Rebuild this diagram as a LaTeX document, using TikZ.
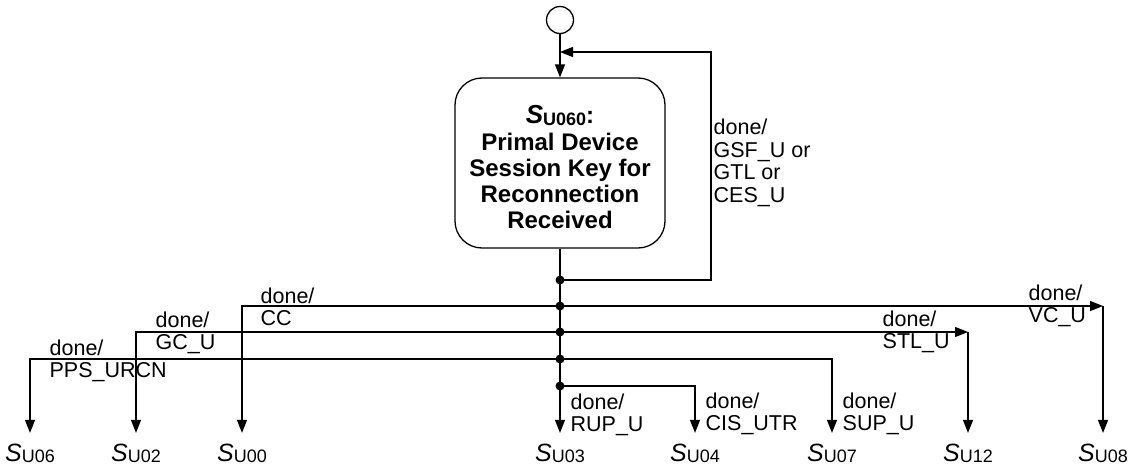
\documentclass[tikz,border=0pt]{standalone}
\usepackage{fontspec}
\setmainfont{Liberation Sans}
\usetikzlibrary{arrows.meta}
\newcommand{\stname}[1]{{\fontsize{25}{25}\selectfont\textit{S}}\raisebox{-1.5pt}{\fontsize{18}{18}\selectfont #1}}
\begin{document}
\begin{tikzpicture}[x=1pt,y=-1pt,line width=1.3pt,
  tip/.style={-{Triangle[length=13pt,width=10pt]}},
  lbl/.style={anchor=west,align=left,font=\fontsize{21.5}{22.5}\selectfont,inner sep=0pt},
  dot/.style={circle,fill,draw=none,inner sep=0pt,minimum size=9pt},
  st/.style={anchor=base,inner sep=0pt},
  endarrow/.style={tip,shorten >=10pt}]
\useasboundingbox (0,0) rectangle (1132,468);
% initial state and main state
\node[circle,draw,minimum size=27pt,inner sep=0pt] (init) at (560,20) {};
\node[draw,rounded corners=27pt,minimum width=210pt,minimum height=170pt,align=center,
  font=\bfseries\fontsize{24}{26.3}\selectfont] (s) at (560,163)
  {\rule{0pt}{27pt}{\fontsize{26}{26}\selectfont\textit{S}}\raisebox{-1.5pt}{\fontsize{18}{18}\selectfont U060}:\\Primal Device\\Session Key for\\Reconnection\\Received};
% junction dots
\node[dot] (j0) at (560,280) {};
\node[dot] (j1) at (560,306) {};
\node[dot] (j2) at (560,332) {};
\node[dot] (j3) at (560,359) {};
\node[dot] (j4) at (560,386) {};
% target states
\node[st] (u06) at (30,461) {\stname{U06}};
\node[st] (u02) at (136,461) {\stname{U02}};
\node[st] (u00) at (242,461) {\stname{U00}};
\node[st] (u03) at (560,461) {\stname{U03}};
\node[st] (u04) at (695,461) {\stname{U04}};
\node[st] (u07) at (832,461) {\stname{U07}};
\node[st] (u12) at (968,461) {\stname{U12}};
\node[st] (u08) at (1103,461) {\stname{U08}};
% helper coordinates
\coordinate (lp) at (711,52);
\coordinate (la) at (560,52);
\coordinate (c12) at (u12.north |- j2);
\coordinate (c08) at (u08.north |- j1);
% connectors
\draw[tip] (init) -- (s.north);
\draw[endarrow] (s.south) -- (u03.north);
\draw[tip] (j0.center) -| (lp) -- (la);
\draw[endarrow] (j1.center) -| (u00.north);
\draw[endarrow] (j2.center) -| (u02.north);
\draw[endarrow] (j3.center) -| (u06.north);
\draw[endarrow] (j4.center) -| (u04.north);
\draw[endarrow] (j3.center) -| (u07.north);
\draw[tip] (j2.center) -- (c12);
\draw[endarrow] (c12) -- (u12.north);
\draw[tip] (j1.center) -- (c08);
\draw[endarrow] (c08) -- (u08.north);
% labels
\node[lbl] (lloop) at (713,163) {done/\\GSF\_U or\\GTL or\\CES\_U};
\node[lbl] (l00) at (260,307) {done/\\CC};
\node[lbl] (l02) at (155,333) {done/\\GC\_U};
\node[lbl] (l06) at (49,361) {done/\\PPS\_URCN};
\node[lbl] (l08) at (1028,306) {done/\\VC\_U};
\node[lbl] (l12) at (882,332) {done/\\STL\_U};
\node[lbl] (l07) at (842,414) {done/\\SUP\_U};
\node[lbl] (l04) at (705,414) {done/\\CIS\_UTR};
\node[lbl] (l03) at (570,415) {done/\\RUP\_U};
\end{tikzpicture}
\end{document}
